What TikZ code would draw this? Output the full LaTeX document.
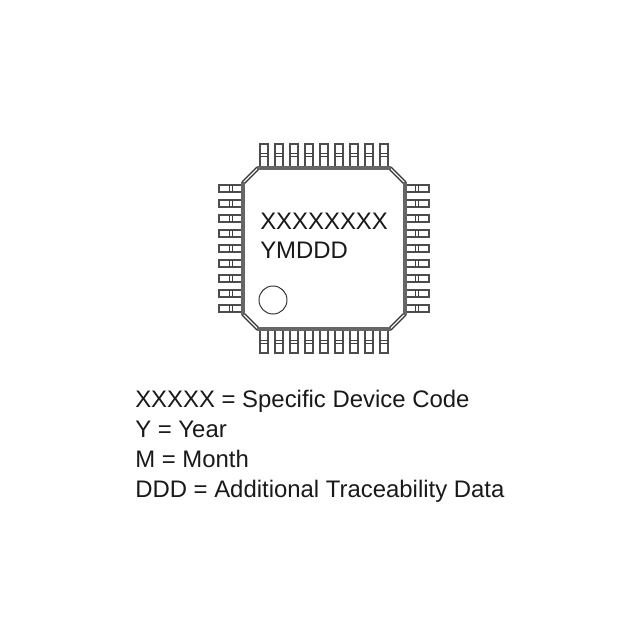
\documentclass[tikz,border=0pt]{standalone}
\usepackage{fontspec}
\setmainfont{Liberation Sans}
\tikzset{
    pin/.style={draw=black!70, line width=0.75pt, fill=white},
    bar/.style={draw=black!75, line width=0.9pt},
    body/.style={draw=black!60, line width=2.4pt},
    corner/.style={draw=black!80, line width=1pt, double=white, double distance=0.8pt},
    label/.style={anchor=base west, inner sep=0pt, font=\fontsize{17}{20}\selectfont, text=black!90}
}
\begin{document}
\begin{tikzpicture}[x=0.025cm, y=-0.025cm]
    \useasboundingbox (0,0) rectangle (640,640);

    % pins
    \foreach \i in {0,...,8} {
        \pgfmathsetmacro{\px}{264+15*\i}
        \pgfmathsetmacro{\py}{188.5+15*\i}
        \draw[pin] (\px-4,144) rectangle (\px+4,168);
        \draw[bar] (\px-4,153.5) -- (\px+4,153.5) (\px-4,156.5) -- (\px+4,156.5);
        \draw[pin] (\px-4,330) rectangle (\px+4,353);
        \draw[bar] (\px-4,340.5) -- (\px+4,340.5) (\px-4,343.5) -- (\px+4,343.5);
        \draw[pin] (219,\py-3.5) rectangle (243,\py+3.5);
        \draw[bar] (229.5,\py-3.5) -- (229.5,\py+3.5) (232.5,\py-3.5) -- (232.5,\py+3.5);
        \draw[pin] (405,\py-3.5) rectangle (429,\py+3.5);
        \draw[bar] (415.5,\py-3.5) -- (415.5,\py+3.5) (418.5,\py-3.5) -- (418.5,\py+3.5);
    }

    % package outline
    \fill[white] (258,168) -- (390,168) -- (405,183) -- (405,314) -- (390,329) -- (258,329) -- (243,314) -- (243,183) -- cycle;
    \draw[corner] (258,168) -- (243,183);
    \draw[corner] (390,168) -- (405,183);
    \draw[corner] (405,314) -- (390,329);
    \draw[corner] (258,329) -- (243,314);
    \draw[body] (257,168) -- (391,168);
    \draw[body] (405,182) -- (405,315);
    \draw[body] (391,329) -- (257,329);
    \draw[body] (243,315) -- (243,182);

    % pin one mark
    \node[circle, draw=black!80, line width=0.7pt, minimum size=0.7cm, inner sep=0pt] (dot) at (273,300) {};

    % marking
    \node[label] (code) at (260,229) {XXXXXXXX};
    \node[label] (date) at (260,258) {YMDDD};

    % legend
    \node[label] (device) at (135,407) {XXXXX = Specific Device Code};
    \node[label] (year) at (135,437) {Y = Year};
    \node[label] (month) at (135,467) {M = Month};
    \node[label] (trace) at (135,497) {DDD = Additional Traceability Data};
\end{tikzpicture}
\end{document}
